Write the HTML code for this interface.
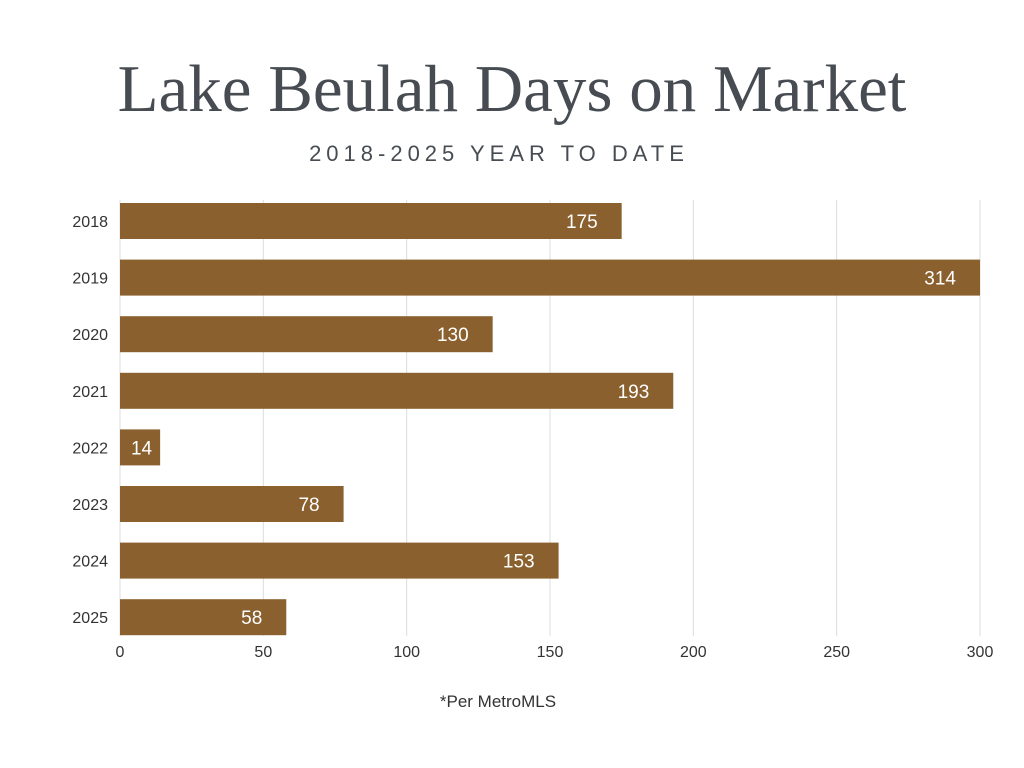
<!DOCTYPE html>
<html><head><meta charset="utf-8"><style>
body{margin:0;background:#fff;width:1024px;height:768px;overflow:hidden;font-family:"Liberation Sans",sans-serif}
svg{display:block}
</style></head><body>
<svg id="chart" width="1024" height="768" viewBox="0 0 1024 768">
<text x="512" y="111" text-anchor="middle" font-family="Liberation Serif, serif" font-size="67" fill="#474c52">Lake Beulah Days on Market</text>
<text x="499" y="161" text-anchor="middle" font-size="22" letter-spacing="5" fill="#474c52">2018-2025 YEAR TO DATE</text>
<g id="grid"></g><g id="bars"></g><g id="xticks"></g><g id="ylabels"></g>
<text x="498" y="707" text-anchor="middle" font-size="17" fill="#333">*Per MetroMLS</text>
</svg>
<script>
const categories=["2018","2019","2020","2021","2022","2023","2024","2025"];
const values=[175,314,130,193,14,78,153,58];
const tickValues=[0,50,100,150,200,250,300];
const NS="http://www.w3.org/2000/svg";
const x0=120,x1=980,xMax=300;
const xs=v=>x0+Math.min(v,xMax)/xMax*(x1-x0);
const yTop=203,step=56.6,bh=36;
const ys=i=>yTop+i*step;
function mk(t,a,p){const e=document.createElementNS(NS,t);for(const k in a)e.setAttribute(k,a[k]);p.appendChild(e);return e;}
const g=document.getElementById("grid"),b=document.getElementById("bars"),xt=document.getElementById("xticks"),yl=document.getElementById("ylabels");
tickValues.forEach(v=>{
 const l=mk("line",{x1:xs(v),x2:xs(v),y1:200,y2:636,stroke:"#dcdcdc","stroke-width":1},g);
 
 
 const t=mk("text",{x:xs(v),y:657,"text-anchor":"middle","font-size":"16",fill:"#333"},xt);
 t.textContent=v;
 
 
});
categories.forEach((c,i)=>{
 const r=mk("rect",{x:x0,y:ys(i),width:xs(values[i])-x0,height:bh,fill:"#8a612e"},b);
 
 
 const vl=mk("text",{x:xs(values[i])-(values[i]<30?8:24),y:ys(i)+25,"text-anchor":"end","font-size":"19",fill:"#fff"},b);
 vl.textContent=values[i];
 
 
 const yt=mk("text",{x:108,y:ys(i)+24,"text-anchor":"end","font-size":"16",fill:"#333"},yl);
 yt.textContent=c;
 
 
});
</script>
</body></html>
